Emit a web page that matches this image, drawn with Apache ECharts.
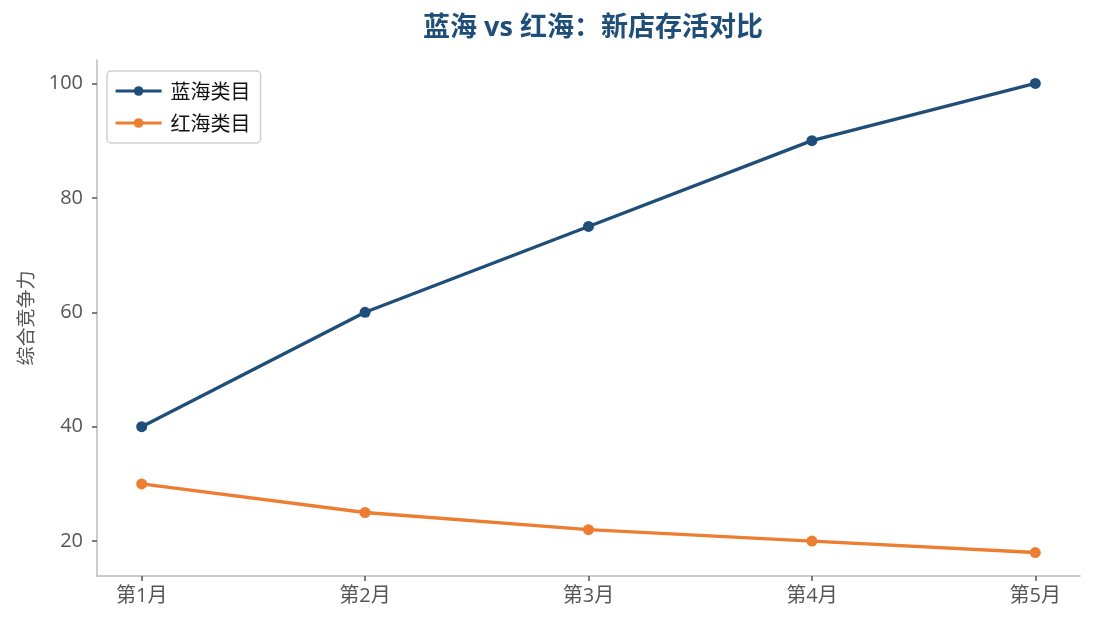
<!DOCTYPE html>
<html>
<head>
<meta charset="utf-8">
<script src="https://cdn.jsdelivr.net/npm/echarts@6/dist/echarts.min.js"></script>
<style>
  html, body { margin: 0; padding: 0; background: #fff; }
  #chart { width: 1095px; height: 629px; }
</style>
</head>
<body>
<div id="chart"></div>
<script>
// === DATA ===
const months = ['第1月', '第2月', '第3月', '第4月', '第5月'];
const blueOcean = [40, 60, 75, 90, 100];
const redOcean = [30, 25, 22, 20, 18];
const yTicks = [20, 40, 60, 80, 100];
const xTicks = [0, 1, 2, 3, 4];

// === STYLE ===
const BLUE = '#1f4e79';
const ORANGE = '#ed7d31';
const FONT = '"Open Sans", "Noto Sans CJK SC", sans-serif';
const CJK = '"Noto Sans CJK SC", sans-serif';

const chart = echarts.init(document.getElementById('chart'));

const toPoints = arr => arr.map((v, i) => [i, v]);

chart.setOption({
    backgroundColor: '#fff',
    animation: false,
    textStyle: { fontFamily: FONT },
    title: {
        text: '蓝海 vs 红海：新店存活对比',
        left: 588,
        textAlign: 'center',
        top: 10,
        textStyle: { color: BLUE, fontSize: 27, fontWeight: 'bold', fontFamily: FONT }
    },
    legend: {
        orient: 'vertical',
        left: 107,
        top: 71,
        padding: [10, 10, 10, 7],
        itemGap: 12,
        itemWidth: 46,
        itemHeight: 12,
        backgroundColor: '#fff',
        borderColor: '#d0d0d0',
        borderWidth: 1.5,
        borderRadius: 4,
        textStyle: { color: '#111', fontSize: 20, fontFamily: CJK, padding: [0, 0, 0, 4] },
        data: [
            { name: '蓝海类目', lineStyle: { width: 3.2 } },
            { name: '红海类目', lineStyle: { width: 3.2 } }
        ]
    },
    grid: { left: 97, right: 15, top: 60, bottom: 53, containLabel: false },
    xAxis: {
        type: 'value',
        min: -0.2,
        max: 4.2,
        splitLine: { show: false },
        axisLine: { lineStyle: { color: '#bbbbbb', width: 1.5 } },
        axisTick: { customValues: xTicks, length: 5, lineStyle: { color: '#555', width: 1.5 } },
        axisLabel: {
            customValues: xTicks,
            formatter: v => months[Math.round(v)],
            color: '#555',
            fontSize: 20,
            margin: 10
        }
    },
    yAxis: {
        type: 'value',
        min: 13.9,
        max: 104.1,
        name: '综合竞争力',
        nameLocation: 'middle',
        nameGap: 62,
        nameTextStyle: { color: '#555', fontSize: 19, fontFamily: CJK },
        splitLine: { show: false },
        axisLine: { show: true, onZero: false, lineStyle: { color: '#bbbbbb', width: 1.5 } },
        axisTick: { show: true, customValues: yTicks, length: 5, lineStyle: { color: '#555', width: 1.5 } },
        axisLabel: { customValues: yTicks, color: '#555', fontSize: 20, margin: 14 }
    },
    series: [
        {
            name: '蓝海类目',
            type: 'line',
            data: toPoints(blueOcean),
            symbol: 'circle',
            symbolSize: 11,
            lineStyle: { color: BLUE, width: 3.4 },
            itemStyle: { color: BLUE }
        },
        {
            name: '红海类目',
            type: 'line',
            data: toPoints(redOcean),
            symbol: 'circle',
            symbolSize: 11,
            lineStyle: { color: ORANGE, width: 3.4 },
            itemStyle: { color: ORANGE }
        }
    ]
});
</script>
</body>
</html>
